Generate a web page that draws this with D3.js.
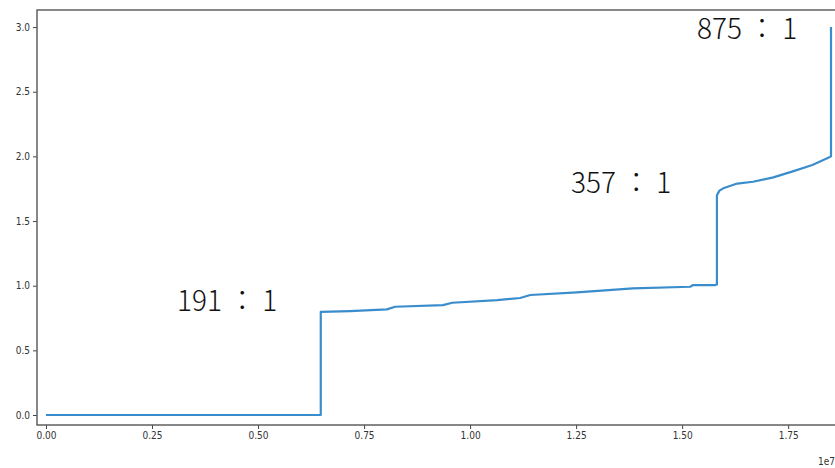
<!DOCTYPE html>
<html>
<head>
<meta charset="utf-8">
<script src="https://cdn.jsdelivr.net/npm/d3@7"></script>
<style>
  html, body { margin: 0; padding: 0; background: #fff; }
  svg { display: block; }
  .tick text, .offset { font-family: "DejaVu Sans Condensed", "DejaVu Sans", sans-serif; font-size: 10px; fill: #333; }
  .ratio { font-family: "Noto Sans CJK JP", "Noto Sans CJK SC", sans-serif; font-size: 28px; font-weight: 300; fill: #111; }
</style>
</head>
<body>
<svg id="chart" width="835" height="468"></svg>
<script>
// Sorted cumulative curve (x in raw units, scaled by 1e7 on the axis)
const curveX = [0, 6.479e6, 6.479e6, 7.17e6, 8.04e6, 8.23e6, 9.36e6, 9.58e6, 10.64e6, 11.18e6,
                11.42e6, 12.52e6, 13.84e6, 15.19e6, 15.26e6, 15.78e6, 15.82e6, 15.82e6, 15.88e6, 15.97e6,
                16.30e6, 16.67e6, 17.15e6, 17.59e6, 18.07e6, 18.42e6, 18.51e6, 18.51e6];
const curveY = [0, 0, 0.797, 0.804, 0.817, 0.837, 0.850, 0.868, 0.889, 0.905,
                0.928, 0.949, 0.980, 0.992, 1.005, 1.005, 1.010, 1.700, 1.735, 1.753,
                1.790, 1.804, 1.838, 1.882, 1.933, 1.985, 2.000, 3.000];

const xTicks = [0, 0.25e7, 0.5e7, 0.75e7, 1.0e7, 1.25e7, 1.5e7, 1.75e7];
const yTicks = [0, 0.5, 1.0, 1.5, 2.0, 2.5, 3.0];

// Ratio annotations placed in data coordinates
const ratioText = ["191 ： 1", "357 ： 1", "875 ： 1"];
const ratioX = [0.309e7, 1.238e7, 1.535e7];
const ratioY = [0.867, 1.772, 2.967];

const svg = d3.select("#chart");
const padL = 37, padT = 10, padB = 425, padR = 845;

const x = d3.scaleLinear().domain([-0.0212e7, 1.884e7]).range([padL, padR]);
const y = d3.scaleLinear().domain([-0.0773, 3.132]).range([padB, padT]);

// Axes
const xAxis = d3.axisBottom(x).tickValues(xTicks).tickSize(4).tickPadding(3)
  .tickFormat(d => (d / 1e7).toFixed(2));
const yAxis = d3.axisLeft(y).tickValues(yTicks).tickSize(4).tickPadding(3)
  .tickFormat(d3.format(".1f"));

const gx = svg.append("g").attr("transform", `translate(0,${padB})`).call(xAxis);
const gy = svg.append("g").attr("transform", `translate(${padL},0)`).call(yAxis);
[gx, gy].forEach(g => {
  g.select(".domain").remove();
  g.selectAll(".tick line").attr("stroke", "#444").attr("stroke-width", 1);
  g.selectAll(".tick text").attr("font-family", null).attr("font-size", null);
});

// Frame
svg.append("rect")
  .attr("x", padL).attr("y", padT)
  .attr("width", padR - padL).attr("height", padB - padT)
  .attr("fill", "none").attr("stroke", "#555").attr("stroke-width", 1.4);

// Offset label
svg.append("text").attr("class", "offset").attr("x", 818).attr("y", 465).text("1e7");

// Curve
const pts = curveX.map((v, i) => [v, curveY[i]]);
svg.append("path")
  .datum(pts)
  .attr("fill", "none")
  .attr("stroke", "#3a8dcc")
  .attr("stroke-width", 2.2)
  .attr("stroke-linejoin", "round")
  .attr("d", d3.line().x(d => x(d[0])).y(d => y(d[1])));

// Ratio labels
svg.selectAll("text.ratio")
  .data(ratioText)
  .join("text")
  .attr("class", "ratio")
  .attr("x", (d, i) => x(ratioX[i]))
  .attr("y", (d, i) => y(ratioY[i]))
  .attr("dominant-baseline", "middle")
  .text(d => d);
</script>
</body>
</html>
